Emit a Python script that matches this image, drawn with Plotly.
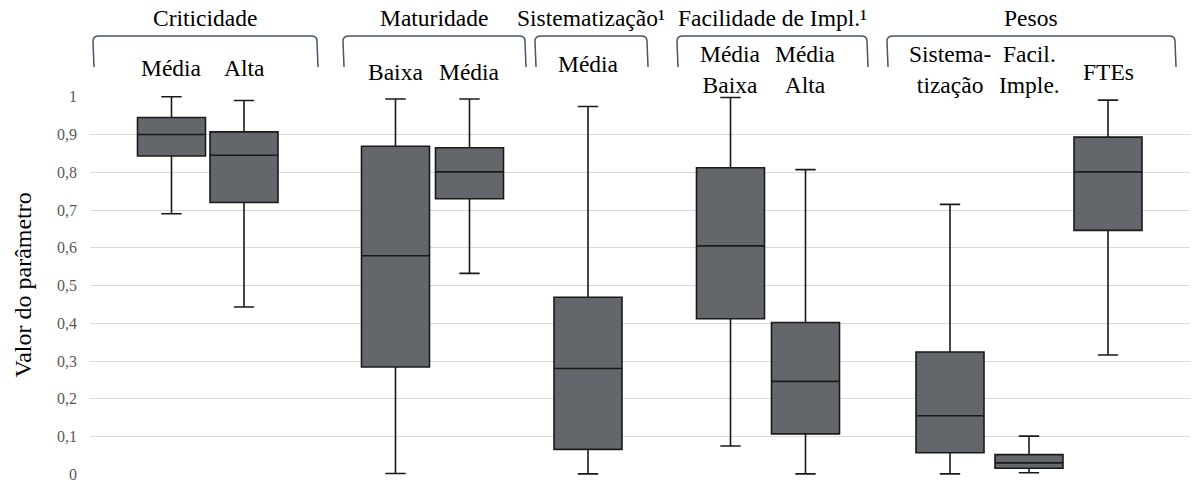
import plotly.graph_objects as go

# ---- data ----
categories = ["Criticidade Média", "Criticidade Alta", "Maturidade Baixa", "Maturidade Média",
              "Sistematização Média", "Facilidade Média Baixa", "Facilidade Média Alta",
              "Pesos Sistematização", "Pesos Facil. Imple.", "Pesos FTEs"]
lower_whisker = [0.690, 0.443, 0.002, 0.532, 0.001, 0.075, 0.001, 0.001, 0.004, 0.316]
q1_values     = [0.843, 0.720, 0.284, 0.730, 0.066, 0.412, 0.107, 0.057, 0.016, 0.646]
median_values = [0.900, 0.845, 0.579, 0.801, 0.280, 0.605, 0.246, 0.155, 0.030, 0.801]
q3_values     = [0.945, 0.907, 0.869, 0.865, 0.469, 0.812, 0.402, 0.324, 0.052, 0.893]
upper_whisker = [1.000, 0.990, 0.994, 0.994, 0.974, 0.998, 0.807, 0.715, 0.101, 0.991]

sub_labels = ["Média", "Alta", "Baixa", "Média", "Média", "Média<br>Baixa", "Média<br>Alta",
              "Sistema-<br>tização", "Facil.<br>Imple.", "FTEs"]
group_titles = ["Criticidade", "Maturidade", "Sistematização¹", "Facilidade de Impl.¹", "Pesos"]

tick_values = [0, 0.1, 0.2, 0.3, 0.4, 0.5, 0.6, 0.7, 0.8, 0.9, 1]
tick_labels = ["0", "0,1", "0,2", "0,3", "0,4", "0,5", "0,6", "0,7", "0,8", "0,9", "1"]

# ---- layout helpers (positions) ----
W, H = 1192, 484
L, R, T, B = 90, 2, 96, 9
box_x = [171.5, 244, 395.5, 469.5, 588, 730.5, 805.5, 950, 1029, 1108]
sub_label_y = [68, 68, 72, 72, 64, 69, 69, 69, 69, 72]
bracket_spans = [(93, 317), (343, 525), (535, 647), (677, 867), (887, 1175)]
title_y = 18
bracket_top, bracket_bottom = 36, 67

plot_h = H - T - B
def py(pix):
    return (H - B - pix) / plot_h

SERIF = "Liberation Serif"
FS = 23.5

fig = go.Figure()
fig.add_trace(go.Box(
    x=box_x, q1=q1_values, median=median_values, q3=q3_values,
    lowerfence=lower_whisker, upperfence=upper_whisker,
    name="", text=categories, width=68, whiskerwidth=0.3,
    fillcolor="#63666a", line=dict(color="#1a1a1a", width=1.6),
    boxpoints=False, showlegend=False, hoverinfo="skip",
))

shapes = []
for (x0, x1) in bracket_spans:
    yt, yb = py(bracket_top), py(bracket_bottom)
    yc = py(bracket_top + 5)
    path = (f"M {x0+1},{yb} L {x0},{yc} Q {x0},{yt} {x0+6},{yt} "
            f"L {x1-6},{yt} Q {x1},{yt} {x1},{yc} L {x1+1},{yb}")
    shapes.append(dict(type="path", path=path, xref="x", yref="paper",
                       line=dict(color="#44546a", width=1.5)))

annotations = []
for (x0, x1), t in zip(bracket_spans, group_titles):
    annotations.append(dict(x=(x0 + x1) / 2, y=py(title_y), xref="x", yref="paper",
                            text=t, showarrow=False, font=dict(family=SERIF, size=FS, color="#000"),
                            xanchor="center", yanchor="middle"))
for x, t, yy in zip(box_x, sub_labels, sub_label_y):
    annotations.append(dict(x=x, y=py(yy), xref="x", yref="paper", text=t, showarrow=False,
                            font=dict(family=SERIF, size=FS, color="#000"),
                            xanchor="center", yanchor="middle"))
annotations.append(dict(x=(22 - L) / (W - L - R), y=0.5, xref="paper", yref="paper",
                        text="Valor do parâmetro", textangle=-90, showarrow=False,
                        font=dict(family=SERIF, size=24, color="#000"),
                        xanchor="center", yanchor="middle"))

fig.update_layout(
    width=W, height=H, margin=dict(l=L, r=R, t=T, b=B),
    paper_bgcolor="white", plot_bgcolor="white",
    shapes=shapes, annotations=annotations, showlegend=False,
    xaxis=dict(range=[L, W - R], visible=False, showgrid=False, zeroline=False),
    yaxis=dict(range=[-0.002, 1.002], tickvals=tick_values, ticktext=tick_labels,
               showgrid=True, gridcolor="#d9d9d9", gridwidth=1.2, zeroline=False,
               showline=False, ticks="", ticklen=0, ticklabelstandoff=12,
               tickfont=dict(family=SERIF, size=16, color="#595959")),
)

fig.write_html("out.html", config={"displayModeBar": False},
               post_script="document.body.style.margin='0';")
